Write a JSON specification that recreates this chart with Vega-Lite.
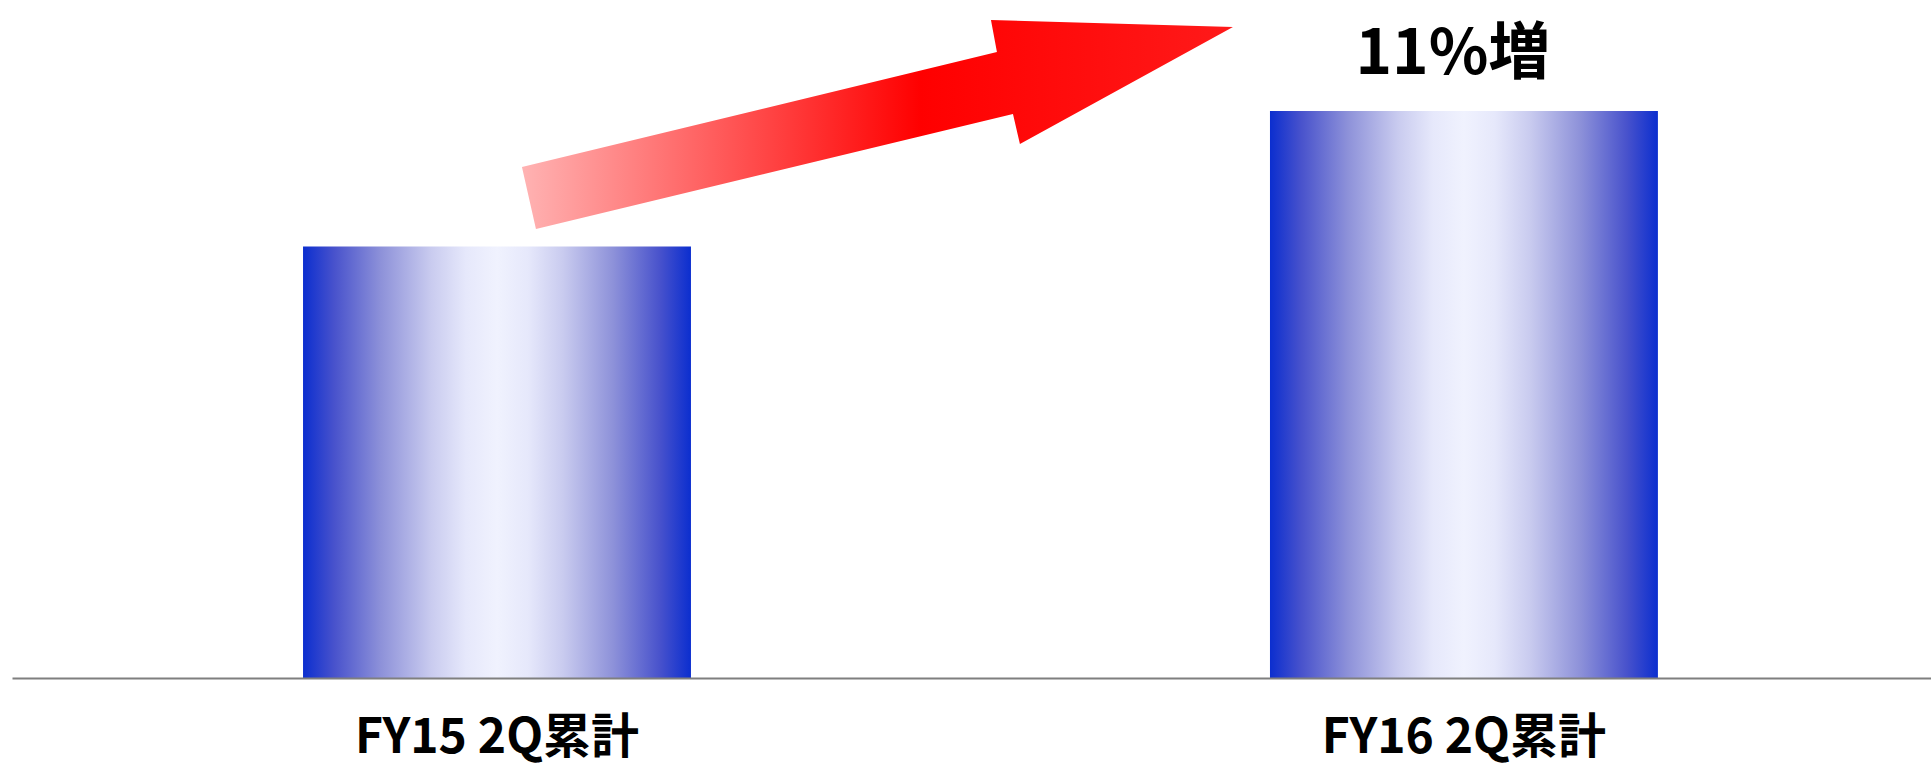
{
  "$schema": "https://vega.github.io/schema/vega-lite/v6.json",
  "width": 1919,
  "height": 678,
  "autosize": {"type": "none"},
  "padding": {"left": 12, "top": 0, "right": 0, "bottom": 90},
  "background": "white",
  "config": {"view": {"stroke": null}},
  "data": {
    "values": [
      {"period": "FY15 2Q累計", "value": 100, "change": null},
      {"period": "FY16 2Q累計", "value": 111, "change": "11%増"}
    ]
  },
  "encoding": {
    "x": {
      "field": "period",
      "type": "nominal",
      "sort": null,
      "scale": {"paddingInner": 0.5988, "paddingOuter": 0.2917, "align": 0.5159},
      "axis": {
        "title": null,
        "ticks": false,
        "grid": false,
        "labelAngle": 0,
        "labelPadding": 60,
        "labelBaseline": "middle",
        "labelFont": "Noto Sans CJK JP",
        "labelFontSize": 48,
        "labelFontWeight": "bold",
        "labelColor": "#000000",
        "labelLimit": 0,
        "domainColor": "#7f7f7f",
        "domainWidth": 2,
        "zindex": 1
      }
    },
    "y": {
      "field": "value",
      "type": "quantitative",
      "scale": {"domain": [65, 120], "zero": false, "nice": false},
      "axis": null
    }
  },
  "layer": [
    {
      "mark": {
        "type": "bar",
        "stroke": null,
        "fill": {
          "gradient": "linear",
          "x1": 0, "x2": 1, "y1": 0, "y2": 0,
          "stops": [
            {"offset": 0, "color": "#0b2ecf"},
            {"offset": 0.08, "color": "#4852cc"},
            {"offset": 0.2, "color": "#8d91d9"},
            {"offset": 0.33, "color": "#c9cbef"},
            {"offset": 0.42, "color": "#e6e8fb"},
            {"offset": 0.5, "color": "#f0f2fe"},
            {"offset": 0.58, "color": "#e6e8fb"},
            {"offset": 0.67, "color": "#c9cbef"},
            {"offset": 0.8, "color": "#8d91d9"},
            {"offset": 0.92, "color": "#4852cc"},
            {"offset": 1, "color": "#0b2ecf"}
          ]
        }
      },
      "encoding": {
        "y2": {"datum": 65}
      }
    },
    {
      "transform": [{"filter": "datum.period === 'FY15 2Q累計'"}],
      "mark": {
        "type": "point",
        "filled": true,
        "opacity": 1,
        "strokeWidth": 0,
        "size": 505521,
        "yOffset": -122,
        "shape": "M-1,0.1196L0.3361,-0.2039L0.3193,-0.294L1,-0.2743L0.4008,0.0549L0.3812,-0.0295L-0.9606,0.294Z",
        "fill": {
          "gradient": "linear",
          "x1": 0, "x2": 1, "y1": 0, "y2": 0,
          "stops": [
            {"offset": 0, "color": "#ffb3b3"},
            {"offset": 0.56, "color": "#ff0000"},
            {"offset": 1, "color": "#ff1a1a"}
          ]
        }
      },
      "encoding": {
        "x": {"field": "period", "type": "nominal", "sort": null, "bandPosition": 1.4807}
      }
    },
    {
      "transform": [{"filter": "isValid(datum.change)"}],
      "mark": {
        "type": "text",
        "font": "Noto Sans CJK JP",
        "fontSize": 62,
        "fontWeight": "bold",
        "color": "#000000",
        "align": "center",
        "baseline": "alphabetic",
        "dx": -11,
        "dy": -37
      },
      "encoding": {
        "text": {"field": "change", "type": "nominal"}
      }
    }
  ]
}
